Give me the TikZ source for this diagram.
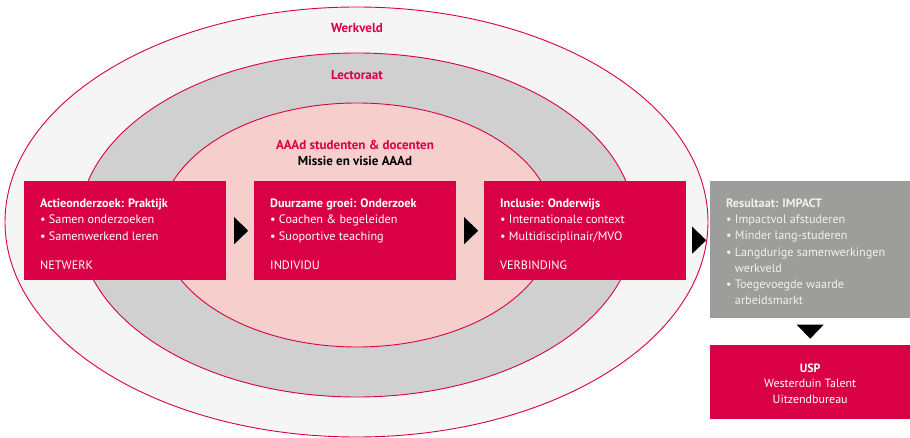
\documentclass[tikz,border=0pt]{standalone}
\usepackage{fontspec}
\setmainfont{PT Sans}
\usetikzlibrary{calc}
\definecolor{crim}{HTML}{DA0045}
\definecolor{outerfill}{HTML}{F5F5F5}
\definecolor{midfill}{HTML}{D0D0D0}
\definecolor{innerfill}{HTML}{F6CFCD}
\definecolor{graybox}{HTML}{9D9D9C}
\definecolor{graytext}{HTML}{F0F0F0}
\tikzset{
  ring/.style={draw=crim, line width=0.9pt},
  redbox/.style={fill=crim, draw=none, anchor=north west, minimum width=202, minimum height=99, inner sep=0},
  greybox/.style={fill=graybox, draw=none, anchor=north west, minimum width=200, minimum height=137, inner sep=0},
  uspbox/.style={fill=crim, draw=none, anchor=north west, minimum width=200, minimum height=74, inner sep=0},
  btxt/.style={text=white, align=left, anchor=base west, inner sep=0, font=\fontsize{12.2}{16.4}\selectfont},
  gtxt/.style={text=graytext, align=left, anchor=base west, inner sep=0, font=\fontsize{12.2}{16.33}\selectfont},
  utxt/.style={text=white, align=center, anchor=base, inner sep=0, font=\fontsize{12}{15.5}\selectfont},
  ringlabel/.style={text=crim, anchor=base, inner sep=0, font=\fontsize{13}{16}\selectfont\bfseries},
  tri/.style={fill=black},
}
\begin{document}
\begin{tikzpicture}[x=1pt,y=-1pt]
\useasboundingbox (0,0) rectangle (910,438);
% rings
\draw[ring, fill=outerfill] (356.5,222) ellipse [x radius=351.5, y radius=215];
\draw[ring, fill=midfill] (357,225) ellipse [x radius=278, y radius=172];
\draw[ring, fill=innerfill] (357,225) ellipse [x radius=197, y radius=122];
% ring labels
\node[ringlabel] (werkveld) at (357,33) {Werkveld};
\node[ringlabel] (lectoraat) at (357,80) {Lectoraat};
\node[ringlabel, align=center] (aaad) at (355,166) {AAAd studenten \& docenten\\\textcolor{black}{Missie en visie AAAd}};
% boxes
\node[redbox] (b1) at (24,181) {};
\node[redbox] (b2) at (254,181) {};
\node[redbox] (b3) at (484,181) {};
\node[greybox] (g) at (710,181) {};
\node[uspbox] (usp) at (710,345) {};
% box texts (anchored at the baseline of the last line)
\node[btxt] (t1) at ($(b1.north west)+(16,89)$) {\textbf{Actieonderzoek: Praktijk}\\• Samen onderzoeken\\• Samenwerkend leren\\[13.5pt]NETWERK};
\node[btxt] (t2) at ($(b2.north west)+(16,89)$) {\textbf{Duurzame groei: Onderzoek}\\• Coachen \& begeleiden\\• Suoportive teaching\\[13.5pt]INDIVIDU};
\node[btxt] (t3) at ($(b3.north west)+(16,89)$) {\textbf{Inclusie: Onderwijs}\\• Internationale context\\• Multidisciplinair/MVO\\[13.5pt]VERBINDING};
\node[gtxt] (tg) at ($(g.north west)+(16,124)$) {\textbf{Resultaat: IMPACT}\\• Impactvol afstuderen\\• Minder lang-studeren\\• Langdurige samenwerkingen\\\hphantom{• }werkveld\\• Toegevoegde waarde\\\hphantom{• }arbeidsmarkt};
\node[utxt] (tu) at ($(usp.north)+(0,58)$) {\textbf{USP}\\Westerduin Talent\\Uitzendbureau};
% arrows
\coordinate (m1) at ($(b1.east)!0.5!(b2.west)$);
\coordinate (m2) at ($(b2.east)!0.5!(b3.west)$);
\coordinate (m3) at ($(b3.east)!0.5!(g.west)$);
\coordinate (m4) at ($(g.south)!0.5!(usp.north)$);
\foreach \m in {m1,m2,m3}{
  \fill[tri] ($(\m)+(8,0)$) -- ($(\m)+(-6,-13.5)$) -- ($(\m)+(-6,13.5)$) -- cycle;
}
\fill[tri] ($(m4)+(0,7)$) -- ($(m4)+(-13.5,-7)$) -- ($(m4)+(13.5,-7)$) -- cycle;
\end{tikzpicture}
\end{document}
